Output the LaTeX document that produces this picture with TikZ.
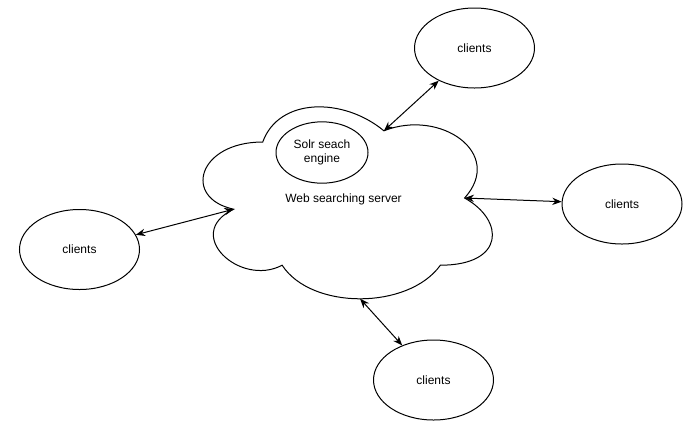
\documentclass[tikz,border=0pt]{standalone}
\usepackage{fontspec}
\setmainfont{Liberation Sans}
\usetikzlibrary{shapes.geometric,arrows.meta}
\begin{document}
\begin{tikzpicture}[x=0.75pt,y=-0.75pt,
  every node/.style={font=\fontsize{9pt}{10.5pt}\selectfont},
  client/.style={ellipse,draw,line width=0.75pt,minimum width=90pt,minimum height=60pt,inner sep=0pt},
  solr/.style={ellipse,draw,line width=0.75pt,minimum width=69pt,minimum height=46pt,inner sep=0pt,align=center},
  cloudline/.style={draw,line width=0.75pt},
  conn/.style={line width=0.75pt,{Stealth[length=7pt,width=5.5pt]}-{Stealth[length=7pt,width=5.5pt]}}]
\useasboundingbox (0,0) rectangle (689,430);
% cloud
\path[cloudline] (262.75,142)
  .. controls (198.15,142) and (182,198) .. (233.68,209.2)
  .. controls (182,233.84) and (240.14,287.6) .. (282.13,265.2)
  .. controls (311.2,310) and (408.1,310) .. (440.4,265.2)
  .. controls (505,265.2) and (505,220.4) .. (464.6,198)
  .. controls (505,153.2) and (440.4,108.4) .. (383.9,130.8)
  .. controls (343.5,97.2) and (278.9,97.2) .. (262.75,142) -- cycle;
\node (server) at (343.5,199) {Web searching server};
\node[solr] (engine) at (322,152.5) {Solr seach\\engine};
% cloud connection points
\coordinate (ctop) at (383.9,130.8);
\coordinate (cright) at (464.6,198);
\coordinate (cleft) at (233.68,209.2);
\coordinate (cbottom) at (360.06,298.75);
% clients
\node[client] (top) at (474.5,48) {clients};
\node[client] (right) at (622,204) {clients};
\node[client] (left) at (79.5,249.5) {clients};
\node[client] (bottom) at (433.5,380) {clients};
% connectors
\draw[conn] (ctop) -- (top);
\draw[conn] (cright) -- (right);
\draw[conn] (cleft) -- (left);
\draw[conn] (cbottom) -- (bottom);
\end{tikzpicture}
\end{document}
